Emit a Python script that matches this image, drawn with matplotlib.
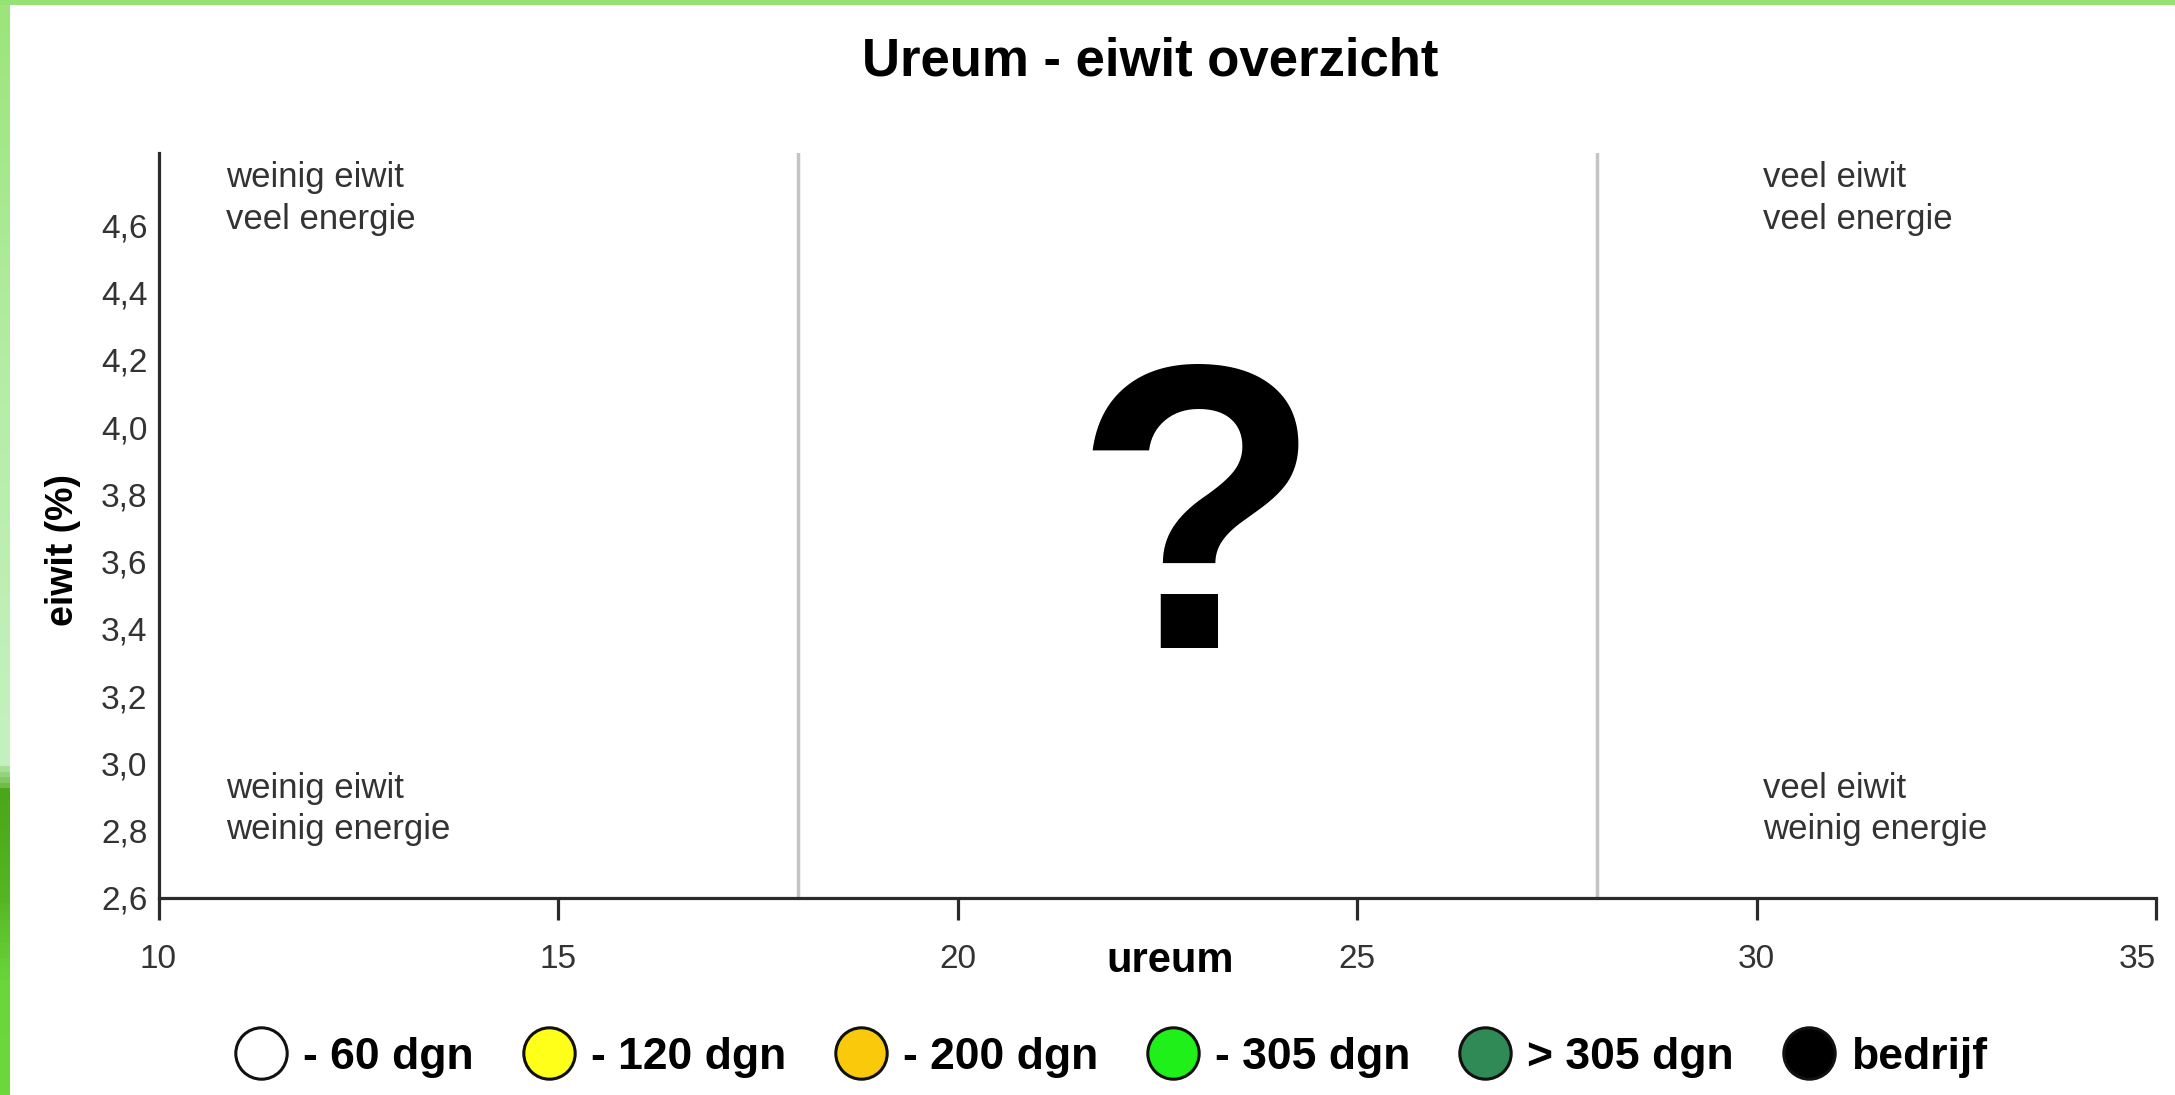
import numpy as np
import matplotlib.pyplot as plt
from matplotlib.colors import LinearSegmentedColormap
from matplotlib.lines import Line2D

plt.rcParams['font.family'] = ['Liberation Sans', 'DejaVu Sans']

# chart content
title = "Ureum - eiwit overzicht"
x_label = "ureum"
y_label = "eiwit (%)"
x_ticks = [10, 15, 20, 25, 30, 35]
y_ticks = [2.6, 2.8, 3.0, 3.2, 3.4, 3.6, 3.8, 4.0, 4.2, 4.4, 4.6]
y_tick_labels = ["2,6", "2,8", "3,0", "3,2", "3,4", "3,6", "3,8", "4,0", "4,2", "4,4", "4,6"]
boundaries = [18, 28]

quadrant_text = ["weinig eiwit\nveel energie", "weinig eiwit\nweinig energie",
                 "veel eiwit\nveel energie", "veel eiwit\nweinig energie"]
quadrant_x = [10.85, 10.85, 30.08, 30.08]
quadrant_y = [4.68, 2.864, 4.68, 2.864]

mark_text = "?"
mark_x = 23.0
mark_y = 3.343

legend_labels = ["- 60 dgn", "- 120 dgn", "- 200 dgn", "- 305 dgn", "> 305 dgn", "bedrijf"]
legend_colors = ["#ffffff", "#ffff1a", "#fbc90c", "#1ff01a", "#2f8a55", "#000000"]

W, H = 2175, 1095
fig = plt.figure(figsize=(W / 100, H / 100), dpi=100)
fig.patch.set_facecolor('white')

# green frame of the original picture (left and top)
strip = fig.add_axes([0, 0, 10 / W, 1])
strip_cmap = LinearSegmentedColormap.from_list(
    'strip', [(0.0, '#9be57a'), (0.35, '#b5eda6'), (0.70, '#c5f1c0'),
              (0.725, '#4aa818'), (0.82, '#55b522'), (0.9, '#6ad63a'), (1.0, '#6cd83c')])
strip.imshow(np.linspace(0, 1, 200).reshape(-1, 1), cmap=strip_cmap, aspect='auto')
strip.axis('off')
top = fig.add_axes([0, 1 - 5 / H, 1, 5 / H])
top.set_facecolor('#96e274')
top.set_xticks([])
top.set_yticks([])
for s in top.spines.values():
    s.set_visible(False)

ax_left, ax_right, ax_top, ax_bottom = 158.5, 2156, 153, 898
ax = fig.add_axes([ax_left / W, 1 - ax_bottom / H, (ax_right - ax_left) / W, (ax_bottom - ax_top) / H])
ax.set_xlim(10, 35)
ax.set_ylim(2.6, 4.815)

for sp in ['top', 'right']:
    ax.spines[sp].set_visible(False)
for sp in ['left', 'bottom']:
    ax.spines[sp].set_linewidth(2.3)
    ax.spines[sp].set_color('#2a2a2a')

for b in boundaries:
    ax.axvline(b, color='#c4c4c4', linewidth=2.5, zorder=1)

ax.set_xticks(x_ticks)
ax.set_yticks(y_ticks)
ax.set_yticklabels(y_tick_labels)
ax.tick_params(axis='x', direction='out', length=16, width=2.3, color='#2a2a2a',
               labelsize=24, labelcolor='#333333', pad=17)
ax.tick_params(axis='y', length=0, labelsize=24, labelcolor='#333333', pad=8)
ax.get_xticklabels()[-1].set_horizontalalignment('right')

for t, qx, qy in zip(quadrant_text, quadrant_x, quadrant_y):
    ax.text(qx, qy, t, fontsize=25, color='#333333', ha='left', va='center', linespacing=1.33)

ax.text(mark_x, mark_y, mark_text, fontsize=292, fontweight='bold', color='black',
        ha='center', va='baseline')

ax.set_xlabel(x_label, fontsize=30, fontweight='bold')
ax.xaxis.set_label_coords((1170 - ax_left) / (ax_right - ax_left), (ax_bottom - 961) / (ax_bottom - ax_top))
ax.xaxis.label.set_va('center')
ax.set_ylabel(y_label, fontsize=27, fontweight='bold')
ax.yaxis.set_label_coords((63 - ax_left) / (ax_right - ax_left), (ax_bottom - 550) / (ax_bottom - ax_top))
ax.yaxis.label.set_va('center')

fig.text(1150 / W, 1 - 62 / H, title, fontsize=38, fontweight='bold', ha='center', va='center')

handles = [Line2D([], [], marker='o', linestyle='none', markersize=37,
                  markerfacecolor=c, markeredgecolor='#111111', markeredgewidth=2.2)
           for c in legend_colors]
fig.legend(handles, legend_labels, loc='center', bbox_to_anchor=(1113 / W, 1 - 1057 / H),
           ncol=6, frameon=False, prop=dict(weight='bold', size=32),
           handlelength=1.0, handletextpad=0.45, columnspacing=1.18,
           borderaxespad=0, borderpad=0)

fig.savefig('out.png', dpi=100)
